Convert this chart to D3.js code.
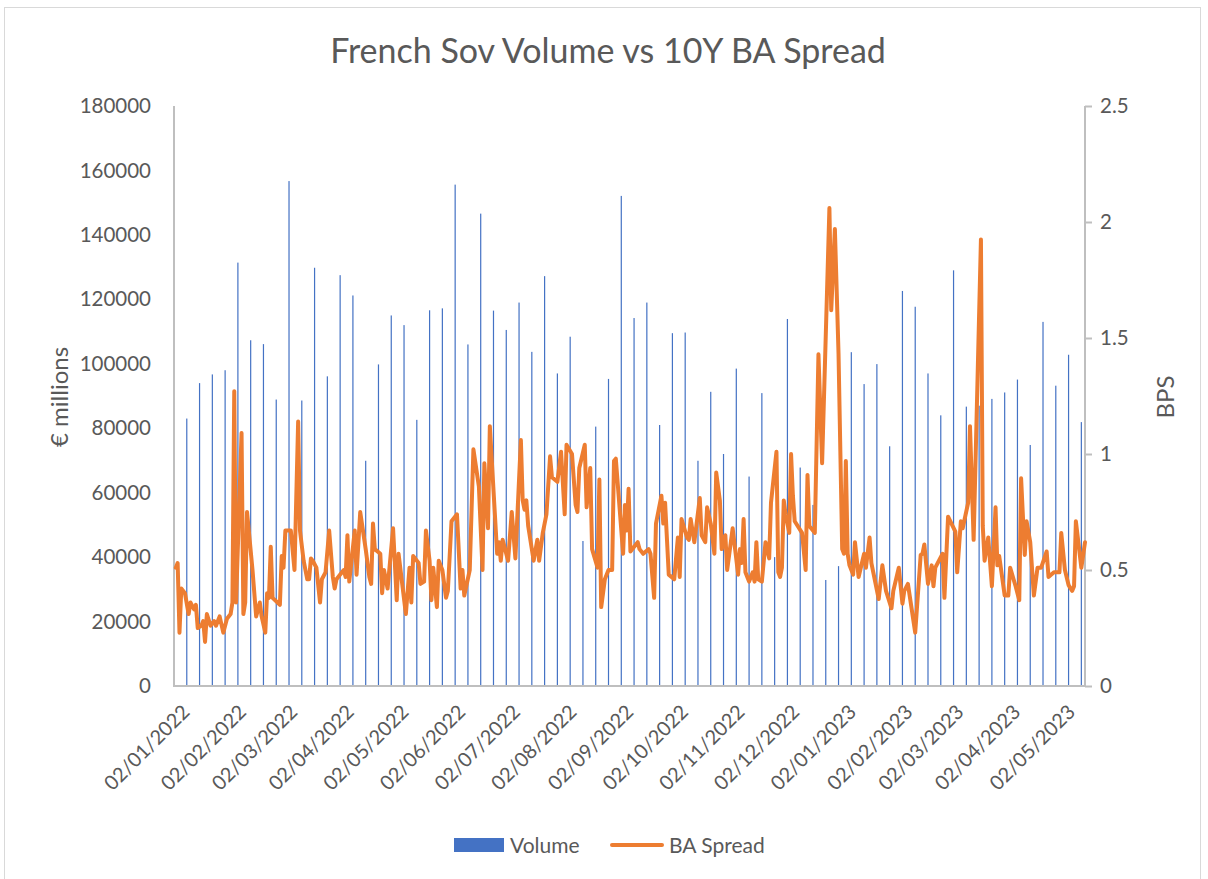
<!DOCTYPE html>
<html><head><meta charset="utf-8">
<script src="https://cdn.jsdelivr.net/npm/d3@7"></script>
<style>
body{margin:0;background:#fff}
text{font-family:Lato,"Open Sans",sans-serif;fill:#595959}
</style>
</head><body>
<svg id="chart" width="1208" height="879"></svg>
<script>
const chartTitle = "French Sov Volume vs 10Y BA Spread";
const leftAxisTitle = "€ millions";
const rightAxisTitle = "BPS";
const seriesNames = ["Volume", "BA Spread"];

// weekly volume dates start (one bar per week)
const volumeFirstDate = "2022-01-05";
const volumes = [
  83000, 94000, 96700, 98000, 131400, 107300, 106100, 88900, 156700, 88600,
  129800, 96100, 127500, 121200, 69900, 99800, 115000, 112000, 82600, 116600,
  117200, 155600, 106000, 146600, 116500, 110500, 119000, 103700, 127200, 97000,
  108400, 45000, 80500, 95300, 152100, 114200, 119000, 81000, 109500, 109700,
  69900, 91300, 72000, 98500, 65000, 90900, 40000, 113900, 67800, 56200,
  32900, 37200, 103600, 93700, 99900, 74400, 122600, 117700, 97000, 84000,
  129000, 86700, 87000, 89100, 91100, 95100, 74800, 113000, 93200, 102800,
  81900
];

const spreadDates = [
  "2021-12-30","2021-12-31","2022-01-01","2022-01-02","2022-01-04","2022-01-06","2022-01-07","2022-01-09","2022-01-10","2022-01-11",
  "2022-01-13","2022-01-14","2022-01-15","2022-01-16","2022-01-18","2022-01-20","2022-01-21","2022-01-23","2022-01-25","2022-01-27",
  "2022-01-29","2022-01-30","2022-01-31","2022-02-01","2022-02-04","2022-02-05","2022-02-06","2022-02-07","2022-02-10","2022-02-12",
  "2022-02-14","2022-02-15","2022-02-17","2022-02-18","2022-02-19","2022-02-20","2022-02-21","2022-02-25","2022-02-26","2022-02-27",
  "2022-02-28","2022-03-03","2022-03-05","2022-03-07","2022-03-08","2022-03-10","2022-03-12","2022-03-13","2022-03-14","2022-03-15",
  "2022-03-17","2022-03-19","2022-03-20","2022-03-22","2022-03-24","2022-03-26","2022-03-27","2022-03-28","2022-03-31","2022-04-01",
  "2022-04-02","2022-04-03","2022-04-04","2022-04-07","2022-04-08","2022-04-10","2022-04-13","2022-04-15","2022-04-16","2022-04-17",
  "2022-04-18","2022-04-21","2022-04-22","2022-04-23","2022-04-25","2022-04-28","2022-04-30","2022-05-01","2022-05-05","2022-05-07",
  "2022-05-08","2022-05-09","2022-05-12","2022-05-13","2022-05-15","2022-05-16","2022-05-18","2022-05-19","2022-05-20","2022-05-22",
  "2022-05-23","2022-05-25","2022-05-27","2022-05-28","2022-05-30","2022-06-02","2022-06-04","2022-06-05","2022-06-06","2022-06-09",
  "2022-06-11","2022-06-14","2022-06-16","2022-06-17","2022-06-19","2022-06-20","2022-06-24","2022-06-25","2022-06-26","2022-06-27",
  "2022-06-30","2022-07-02","2022-07-04","2022-07-07","2022-07-08","2022-07-09","2022-07-10","2022-07-11","2022-07-14","2022-07-16",
  "2022-07-17","2022-07-19","2022-07-21","2022-07-23","2022-07-24","2022-07-27","2022-07-29","2022-07-31","2022-08-01","2022-08-04",
  "2022-08-06","2022-08-07","2022-08-08","2022-08-11","2022-08-12","2022-08-14","2022-08-15","2022-08-18","2022-08-19","2022-08-20",
  "2022-08-22","2022-08-24","2022-08-26","2022-08-27","2022-08-28","2022-09-01","2022-09-02","2022-09-03","2022-09-04","2022-09-05",
  "2022-09-09","2022-09-10","2022-09-12","2022-09-15","2022-09-16","2022-09-18","2022-09-19","2022-09-22","2022-09-23","2022-09-24",
  "2022-09-26","2022-09-29","2022-10-01","2022-10-02","2022-10-03","2022-10-06","2022-10-07","2022-10-08","2022-10-10","2022-10-13",
  "2022-10-14","2022-10-16","2022-10-17","2022-10-19","2022-10-21","2022-10-22","2022-10-24","2022-10-25","2022-10-27","2022-10-28",
  "2022-10-31","2022-11-03","2022-11-04","2022-11-05","2022-11-06","2022-11-07","2022-11-09","2022-11-11","2022-11-12","2022-11-13",
  "2022-11-14","2022-11-16","2022-11-18","2022-11-20","2022-11-21","2022-11-24","2022-11-25","2022-11-26","2022-11-27","2022-11-28",
  "2022-11-29","2022-12-01","2022-12-02","2022-12-03","2022-12-04","2022-12-08","2022-12-10","2022-12-11","2022-12-12","2022-12-15",
  "2022-12-17","2022-12-19","2022-12-23","2022-12-24","2022-12-26","2022-12-28","2022-12-30","2022-12-31","2023-01-01","2023-01-02",
  "2023-01-03","2023-01-05","2023-01-06","2023-01-08","2023-01-11","2023-01-12","2023-01-14","2023-01-15","2023-01-19","2023-01-21",
  "2023-01-23","2023-01-26","2023-01-27","2023-01-30","2023-02-01","2023-02-02","2023-02-04","2023-02-08","2023-02-11","2023-02-12",
  "2023-02-13","2023-02-15","2023-02-17","2023-02-18","2023-02-19","2023-02-23","2023-02-24","2023-02-26","2023-03-02","2023-03-03",
  "2023-03-05","2023-03-06","2023-03-09","2023-03-10","2023-03-12","2023-03-16","2023-03-17","2023-03-18","2023-03-20","2023-03-22",
  "2023-03-24","2023-03-25","2023-03-26","2023-03-29","2023-03-31","2023-04-01","2023-04-04","2023-04-06","2023-04-07","2023-04-09",
  "2023-04-10","2023-04-12","2023-04-14","2023-04-16","2023-04-18","2023-04-21","2023-04-22","2023-04-25","2023-04-28","2023-04-29",
  "2023-05-01","2023-05-03","2023-05-05","2023-05-06","2023-05-07","2023-05-10","2023-05-12"
];
const spreadValues = [
  0.51,0.53,0.23,0.42,0.40,0.31,0.36,0.33,0.35,0.25,
  0.26,0.28,0.19,0.31,0.26,0.28,0.26,0.30,0.23,0.29,
  0.31,0.36,1.27,0.36,1.09,0.31,0.36,0.75,0.50,0.30,
  0.36,0.30,0.23,0.40,0.38,0.60,0.38,0.35,0.56,0.51,
  0.67,0.67,0.50,1.14,0.67,0.54,0.46,0.46,0.55,0.54,
  0.51,0.36,0.46,0.49,0.67,0.47,0.42,0.46,0.49,0.50,
  0.47,0.65,0.45,0.67,0.48,0.75,0.59,0.47,0.44,0.70,
  0.59,0.57,0.40,0.50,0.42,0.68,0.37,0.57,0.31,0.51,
  0.36,0.56,0.53,0.44,0.45,0.67,0.54,0.37,0.51,0.34,
  0.54,0.50,0.38,0.41,0.71,0.74,0.42,0.50,0.39,0.50,
  1.02,0.86,0.50,0.96,0.68,1.12,0.57,0.62,0.54,0.63,
  0.54,0.75,0.55,1.06,0.80,0.76,0.80,0.69,0.54,0.63,
  0.54,0.66,0.74,0.99,0.90,0.88,1.01,0.74,1.04,1.00,
  0.78,0.75,0.94,1.04,0.77,0.94,0.59,0.51,0.89,0.34,
  0.46,0.50,0.50,0.97,0.98,0.57,0.78,0.67,0.85,0.58,
  0.62,0.59,0.57,0.59,0.57,0.38,0.70,0.82,0.70,0.79,
  0.48,0.46,0.64,0.47,0.72,0.64,0.63,0.72,0.62,0.81,
  0.65,0.62,0.77,0.70,0.57,0.92,0.80,0.59,0.65,0.50,
  0.68,0.48,0.59,0.53,0.72,0.49,0.45,0.49,0.45,0.62,
  0.46,0.45,0.62,0.55,0.79,1.01,0.49,0.47,0.51,0.80,
  0.74,0.66,1.00,0.82,0.71,0.66,0.50,0.91,0.69,0.66,
  1.43,0.96,2.06,1.62,1.97,1.43,0.59,0.57,0.97,0.57,
  0.52,0.48,0.62,0.47,0.57,0.51,0.64,0.53,0.375,0.52,
  0.41,0.335,0.41,0.51,0.355,0.41,0.44,0.23,0.565,0.57,
  0.61,0.44,0.52,0.43,0.51,0.57,0.38,0.73,0.665,0.49,
  0.71,0.68,0.79,1.12,0.63,1.925,0.69,0.54,0.64,0.43,
  0.77,0.52,0.56,0.39,0.39,0.51,0.43,0.37,0.895,0.565,
  0.71,0.62,0.39,0.51,0.51,0.58,0.47,0.49,0.49,0.66,
  0.50,0.435,0.41,0.43,0.71,0.51,0.62
];

const leftTicks = [0,20000,40000,60000,80000,100000,120000,140000,160000,180000];
const rightTicks = [0,0.5,1,1.5,2,2.5];
const xTickDates = ["2022-01-02","2022-02-02","2022-03-02","2022-04-02","2022-05-02","2022-06-02",
  "2022-07-02","2022-08-02","2022-09-02","2022-10-02","2022-11-02","2022-12-02","2023-01-02",
  "2023-02-02","2023-03-02","2023-04-02","2023-05-02"];
const xDomainDates = ["2021-12-29","2023-05-12"];

const parse = d3.utcParse("%Y-%m-%d");
const fmt = d3.utcFormat("%d/%m/%Y");
const svg = d3.select("#chart");
const plot = {left: 174, right: 1085, top: 106, bottom: 686};

const x = d3.scaleUtc().domain(xDomainDates.map(parse)).range([plot.left, plot.right]);
const yL = d3.scaleLinear().domain([0, 180000]).range([plot.bottom, plot.top]);
const yR = d3.scaleLinear().domain([0, 2.5]).range([plot.bottom, plot.top]);

const blue = "#4472C4", orange = "#ED7D31", axisCol = "#BFBFBF";

// chart border
svg.append("rect").attr("x", 4.5).attr("y", 7.5).attr("width", 1196).attr("height", 890)
  .attr("fill", "none").attr("stroke", "#D9D9D9").attr("stroke-width", 1);

// title
svg.append("text").attr("x", 608).attr("y", 63).attr("text-anchor", "middle")
  .style("font-size", "34px").text(chartTitle);

// bars
const first = parse(volumeFirstDate);
const barData = volumes.map((v, i) => ({date: d3.utcWeek.offset(first, i), v}));
svg.append("g").selectAll("rect").data(barData).join("rect")
  .attr("x", d => x(d.date) - 0.6).attr("width", 1.2)
  .attr("y", d => yL(d.v)).attr("height", d => yL(0) - yL(d.v))
  .attr("fill", blue);

// axes lines
svg.append("line").attr("x1", plot.left).attr("x2", plot.left).attr("y1", plot.top).attr("y2", plot.bottom)
  .attr("stroke", axisCol).attr("stroke-width", 2);
svg.append("line").attr("x1", plot.right).attr("x2", plot.right).attr("y1", plot.top).attr("y2", plot.bottom)
  .attr("stroke", axisCol).attr("stroke-width", 2);
svg.append("line").attr("x1", plot.left - 1).attr("x2", plot.right + 1).attr("y1", plot.bottom).attr("y2", plot.bottom)
  .attr("stroke", axisCol).attr("stroke-width", 2);

// left axis
const gL = svg.append("g").attr("transform", `translate(${plot.left},0)`)
  .call(d3.axisLeft(yL).tickValues(leftTicks).tickSize(0).tickPadding(23).tickFormat(d3.format("d")));
gL.select(".domain").remove();
gL.selectAll("text").style("font-size", "20.5px").attr("fill", "#595959");

// right axis
const gR = svg.append("g").attr("transform", `translate(${plot.right},0)`)
  .call(d3.axisRight(yR).tickValues(rightTicks).tickSize(7).tickPadding(8).tickFormat(d => String(d)));
gR.select(".domain").remove();
gR.selectAll("line").attr("stroke", axisCol).attr("stroke-width", 2);
gR.selectAll("text").style("font-size", "20.5px").attr("fill", "#595959");

// x axis labels
const gX = svg.append("g").attr("transform", `translate(0,${plot.bottom})`)
  .call(d3.axisBottom(x).tickValues(xTickDates.map(parse)).tickSize(0).tickFormat(fmt));
gX.select(".domain").remove();
gX.selectAll("text")
  .style("font-size", "20px").attr("fill", "#595959")
  .attr("text-anchor", "end")
  .attr("dy", "0.72em").attr("y", 0)
  .attr("transform", "translate(-1,17) rotate(-45)");

// line
const lineData = spreadDates.map((d, i) => ({date: parse(d), v: spreadValues[i]}));
svg.append("path").datum(lineData)
  .attr("fill", "none").attr("stroke", orange).attr("stroke-width", 4)
  .attr("stroke-linejoin", "round").attr("stroke-linecap", "round")
  .attr("d", d3.line().x(d => x(d.date)).y(d => yR(d.v)));

// axis titles
svg.append("text").attr("transform", "translate(68,397) rotate(-90)").attr("text-anchor", "middle")
  .style("font-size", "24px").text(leftAxisTitle);
svg.append("text").attr("transform", "translate(1174,397) rotate(-90)").attr("text-anchor", "middle")
  .style("font-size", "24px").text(rightAxisTitle);

// legend
const lg = svg.append("g");
lg.append("rect").attr("x", 454).attr("y", 838).attr("width", 50).attr("height", 14).attr("fill", blue);
lg.append("text").attr("x", 510).attr("y", 853).style("font-size", "21px").text(seriesNames[0]);
lg.append("line").attr("x1", 612).attr("x2", 662).attr("y1", 845).attr("y2", 845)
  .attr("stroke", orange).attr("stroke-width", 4).attr("stroke-linecap", "round");
lg.append("text").attr("x", 669).attr("y", 853).style("font-size", "21px").text(seriesNames[1]);
</script>
</body></html>
